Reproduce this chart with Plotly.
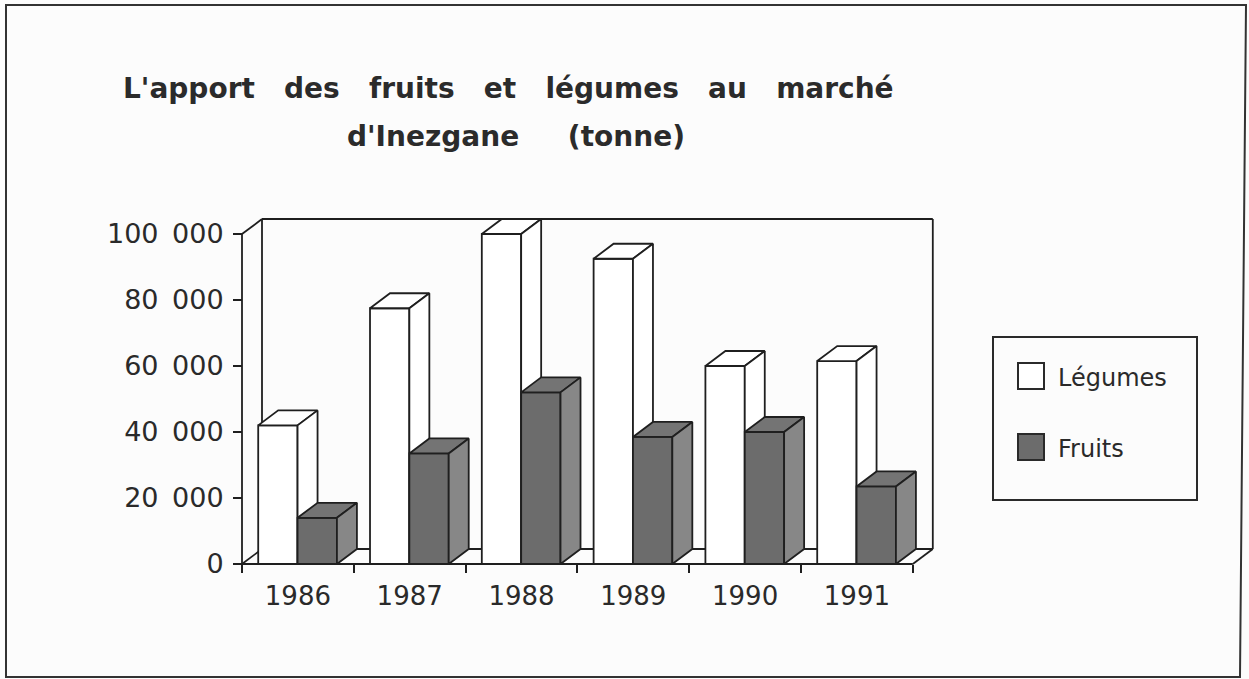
import plotly.graph_objects as go

# ---- data -------------------------------------------------------------
years = ["1986", "1987", "1988", "1989", "1990", "1991"]
legumes = [42000, 77500, 100000, 92500, 60000, 61500]
fruits = [14000, 33500, 52000, 38500, 40000, 23500]
y_tickvals = [0, 20000, 40000, 60000, 80000, 100000]
y_ticktext = ["0", "20\u2002000", "40\u2002000", "60\u2002000", "80\u2002000", "100\u2002000"]

# ---- page geometry ----------------------------------------------------
W, H = 1249, 679
PL, PR, PT, PB = 236, 942, 210, 572          # plot area in pixels
X_PX = 111.8                                 # pixels per category
Y_PX = 0.0033                                # pixels per tonne
X0_PX, Y0_PX = 242, 564                      # pixel of (x=-0.5, y=0)

xmin = -0.5 - (X0_PX - PL) / X_PX
xmax = xmin + (PR - PL) / X_PX
ymin = -(PB - Y0_PX) / Y_PX
ymax = ymin + (PB - PT) / Y_PX

DX = 20 / X_PX        # depth offset, horizontal (data units)
DY = 15 / Y_PX        # depth offset, vertical (data units)
BAR_W = 0.352
N = len(years)
YMAX_WALL = 100000

INK = "#1f1f1f"
LW = 1.8


def px(x):
    return (x - PL) / (PR - PL)


def py(y):
    return (PB - y) / (PB - PT)


def paper_x(v):
    return (v - xmin) / (xmax - xmin)


def paper_y(v):
    return (v - ymin) / (ymax - ymin)


def box_faces(lefts, vals):
    """Front, top and side polygons of 3-D columns, None-separated."""
    fx, fy, tx, ty, sx, sy = [], [], [], [], [], []
    for x0, v in zip(lefts, vals):
        x1 = x0 + BAR_W
        fx += [x0, x1, x1, x0, x0, None]
        fy += [0, 0, v, v, 0, None]
        tx += [x0, x1, x1 + DX, x0 + DX, x0, None]
        ty += [v, v, v + DY, v + DY, v, None]
        sx += [x1, x1 + DX, x1 + DX, x1, x1, None]
        sy += [0, DY, v + DY, v, 0, None]
    return (fx, fy), (tx, ty), (sx, sy)


fig = go.Figure()

series = [
    ("Légumes", legumes, [i - 0.355 for i in range(N)], ["#ffffff", "#ffffff", "#ffffff"]),
    ("Fruits", fruits, [i - 0.003 for i in range(N)], ["#6c6c6c", "#747474", "#878787"]),
]

for name, vals, lefts, colors in series:
    for (xs, ys), col in zip(box_faces(lefts, vals), colors):
        fig.add_trace(go.Scatter(
            x=xs, y=ys, mode="lines", fill="toself", fillcolor=col,
            line=dict(color=INK, width=LW), hoverinfo="skip",
            showlegend=False, name=name,
        ))

# ---- walls and floor of the 3-D box ----------------------------------
shapes = []


def seg(xa, ya, xb, yb, layer="below"):
    shapes.append(dict(type="line", xref="x", yref="y", x0=xa, y0=ya, x1=xb, y1=yb,
                       line=dict(color=INK, width=LW), layer=layer))


xl, xr = -0.5, N - 0.5
seg(xl + DX, DY, xl + DX, YMAX_WALL + DY)              # back wall, left edge
seg(xl + DX, YMAX_WALL + DY, xr + DX, YMAX_WALL + DY)  # back wall, top edge
seg(xr + DX, DY, xr + DX, YMAX_WALL + DY)              # back wall, right edge
seg(xl + DX, DY, xr + DX, DY)                          # floor, back edge
seg(xl, 0, xl + DX, DY)                                # floor, left edge
seg(xr, 0, xr + DX, DY)                                # floor, right edge
seg(xl, 0, xl, YMAX_WALL, layer="above")               # front value axis
seg(xl, YMAX_WALL, xl + DX, YMAX_WALL + DY)            # top-left corner
seg(xl, 0, xr, 0, layer="above")                       # front category axis

# ---- outer frame -------------------------------------------------------
shapes.append(dict(
    type="path", xref="paper", yref="paper",
    path=f"M{px(6)},{py(5)} L{px(1246)},{py(5)} L{px(1240)},{py(677)} L{px(6)},{py(677)} Z",
    line=dict(color="#333333", width=2), fillcolor="rgba(0,0,0,0)",
))

# ---- legend box ---------------------------------------------------------
shapes.append(dict(type="rect", xref="paper", yref="paper",
                   x0=px(993), x1=px(1197), y0=py(500), y1=py(337),
                   line=dict(color="#2a2a2a", width=2), fillcolor="rgba(0,0,0,0)"))
legend_items = [("Légumes", "#ffffff", 376), ("Fruits", "#6c6c6c", 447)]
annotations = []
for label, col, cy in legend_items:
    shapes.append(dict(type="rect", xref="paper", yref="paper",
                       x0=px(1018), x1=px(1044), y0=py(cy + 13), y1=py(cy - 13),
                       line=dict(color="#2a2a2a", width=2), fillcolor=col))
    annotations.append(dict(
        xref="paper", yref="paper", x=px(1056), y=py(cy + 2), xanchor="left", yanchor="middle",
        text=label, showarrow=False,
        font=dict(family="DejaVu Sans", size=24, color="#2a2a2a"),
    ))

# ---- title ---------------------------------------------------------------
sp3 = "\u00a0" * 3
title_lines = [
    ("L'apport" + sp3 + "des" + sp3 + "fruits" + sp3 + "et" + sp3 + "légumes" + sp3 + "au" + sp3 + "marché", 121, 88),
    ("d'Inezgane" + "\u00a0" * 5 + "(tonne)", 345, 136),
]
for text, x_left, y_mid in title_lines:
    annotations.append(dict(
        xref="paper", yref="paper", x=px(x_left), y=py(y_mid), xanchor="left", yanchor="middle",
        text=f"<b>{text}</b>", showarrow=False,
        font=dict(family="DejaVu Sans", size=28, color="#2b2b2b"),
    ))

fig.update_layout(
    width=W, height=H,
    margin=dict(l=PL, r=W - PR, t=PT, b=H - PB, pad=0),
    paper_bgcolor="#fcfcfc", plot_bgcolor="#fcfcfc",
    showlegend=False,
    shapes=shapes, annotations=annotations,
    xaxis=dict(
        range=[xmin, xmax], showgrid=False, zeroline=False, showline=False,
        tickmode="array", tickvals=list(range(N)), ticktext=years, ticks="",
        tickfont=dict(family="DejaVu Sans", size=26, color="#2a2a2a"),
        minor=dict(ticks="outside", tickmode="array",
                   tickvals=[i - 0.5 for i in range(N + 1)],
                   ticklen=8, tickwidth=LW, tickcolor=INK, showgrid=False),
        anchor="free", position=paper_y(0), ticklabelstandoff=14,
        fixedrange=True,
    ),
    yaxis=dict(
        range=[ymin, ymax], showgrid=False, zeroline=False, showline=False,
        tickmode="array", tickvals=y_tickvals, ticktext=y_ticktext,
        ticks="outside", ticklen=9, tickwidth=LW, tickcolor=INK,
        tickfont=dict(family="DejaVu Sans", size=27, color="#2a2a2a"),
        anchor="free", position=paper_x(-0.5), ticklabelstandoff=4,
        fixedrange=True,
    ),
)

fig.write_html("out.html")
